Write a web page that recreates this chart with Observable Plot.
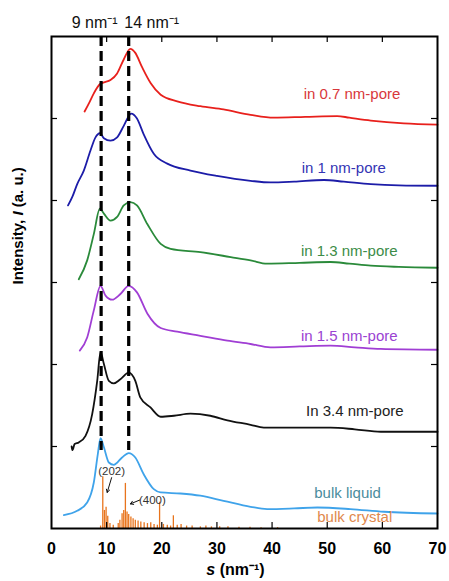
<!DOCTYPE html>
<html>
<head>
<meta charset="utf-8">
<script src="https://cdn.jsdelivr.net/npm/d3@7"></script>
<script src="https://cdn.jsdelivr.net/npm/@observablehq/plot@0.6"></script>
<style>
  html, body { margin: 0; padding: 0; background: #fff; }
</style>
</head>
<body>
<div id="chart"></div>
<script>
// ---- data (s in nm^-1, intensity in arbitrary offset units) ----
const xTickLabels = [0, 10, 20, 30, 40, 50, 60, 70];
const xInnerTicks = [10, 20, 30, 40, 50, 60];
const yInnerTicks = [1, 2, 3, 4, 5];
const peakLines = [9, 14];
const peakLabels = ["9 nm⁻¹", "14 nm⁻¹"];

const pore07 = [[6.0,5.085],[6.9,5.2],[7.7,5.31],[8.8,5.42],[9.5,5.44],[10.7,5.47],[11.9,5.55],[13.1,5.72],[14.3,5.85],[15.2,5.80],[16.4,5.63],[18.0,5.43],[19.8,5.29],[22.8,5.21],[27.0,5.15],[31.2,5.11],[36.1,5.045],[40.3,5.01],[46,5.02],[51.8,5.03],[54,5.01],[57.9,4.975],[63.9,4.94],[70,4.925]];
const pore1 = [[3.0,3.94],[3.75,4.04],[4.66,4.20],[5.86,4.365],[7.07,4.61],[7.98,4.77],[8.77,4.82],[9.5,4.76],[10.7,4.73],[11.9,4.77],[13.1,4.91],[14.45,5.06],[15.5,5.0],[16.7,4.81],[18.55,4.57],[21.0,4.45],[25.2,4.365],[30.0,4.30],[36.1,4.24],[39.7,4.22],[44,4.23],[49.4,4.25],[53,4.23],[57.9,4.20],[63,4.185],[70,4.18]];
const pore13 = [[4.95,3.04],[6.47,3.27],[7.67,3.59],[8.77,3.90],[9.5,3.84],[10.7,3.755],[11.9,3.80],[13.1,3.94],[14.3,3.98],[15.5,3.94],[17.4,3.71],[19.8,3.47],[21.6,3.41],[27.0,3.37],[32.5,3.31],[36.1,3.27],[39.1,3.23],[45,3.24],[50.6,3.25],[54,3.23],[57.9,3.205],[63,3.19],[70,3.18]];
const pore15 = [[5.13,2.17],[6.47,2.33],[7.67,2.66],[8.89,2.96],[9.8,2.84],[11.0,2.79],[12.5,2.86],[14.0,2.96],[15.5,2.88],[17.4,2.62],[19.8,2.445],[22.8,2.40],[27.0,2.35],[31.9,2.29],[36.1,2.25],[39.7,2.21],[45,2.22],[50.6,2.23],[55,2.21],[59.7,2.19],[70,2.18]];
const pore34 = [[3.65,1.0],[3.8,0.955],[4.2,1.03],[4.95,1.05],[6.17,1.13],[7.38,1.395],[8.29,1.80],[8.89,2.15],[9.5,2.006],[10.4,1.80],[11.3,1.77],[12.5,1.82],[14.0,1.90],[15.2,1.80],[16.1,1.60],[17.95,1.476],[19.8,1.363],[22.2,1.375],[25.2,1.40],[28.8,1.375],[31.9,1.32],[36.1,1.265],[38.5,1.23],[45,1.23],[50.6,1.23],[55,1.21],[59.7,1.18],[70,1.18]];
const bulkLiquid = [[2.23,0.163],[4.66,0.216],[6.47,0.317],[7.67,0.561],[8.4,0.908],[8.89,1.103],[9.5,0.99],[10.4,0.805],[11.3,0.777],[12.8,0.866],[14.0,0.92],[15.2,0.866],[16.7,0.664],[18.55,0.48],[19.8,0.44],[23.4,0.427],[27.0,0.40],[31.2,0.338],[36.1,0.265],[39.1,0.237],[44,0.245],[48.2,0.256],[54.2,0.237],[60.3,0.204],[70,0.183]];
const crystalS = [8.9,9.3,9.6,9.9,10.2,10.6,11.2,12.1,12.4,12.8,13.1,13.4,13.7,14.0,14.4,14.8,15.2,15.7,16.2,16.8,17.4,18.0,18.6,19.2,19.6,20.3,21.0,21.6,22.1,22.8,23.5,24.5,25.5,27.0,28.0,29.0,30.5,32.0,34.0,36.0,38.0,41.0];
const crystalI = [0.03,0.63,0.22,0.26,0.15,0.06,0.04,0.06,0.10,0.18,0.22,0.55,0.20,0.17,0.14,0.12,0.10,0.09,0.08,0.07,0.06,0.07,0.05,0.04,0.32,0.05,0.04,0.03,0.155,0.04,0.05,0.03,0.03,0.02,0.03,0.02,0.02,0.02,0.015,0.015,0.01,0.01];

const seriesNames = ["in 0.7 nm-pore","in 1 nm-pore","in 1.3 nm-pore","in 1.5 nm-pore","In 3.4 nm-pore","bulk liquid","bulk crystal"];
const seriesData = [pore07, pore1, pore13, pore15, pore34, bulkLiquid];
const lineColors = ["#e8201c","#1c1ca8","#2a8a3a","#a03ed4","#111111","#3fa3ea","#e8741c"];
const labelColors = ["#d8383c","#3434b4","#3c8c48","#9a42d2","#222222","#4a8c9c","#e0884c"];
const labelS = [54.5, 53.0, 54.0, 54.0, 55.0, 53.7, 55.0];
const labelI = [5.30, 4.40, 3.38, 2.35, 1.43, 0.427, 0.134];

const annotText = ["(202)", "(400)"];
const annotS = [10.9, 18.3];
const annotI = [0.695, 0.338];
const arrowFromS = [10.9, 16.0];
const arrowFromI = [0.62, 0.347];
const arrowToS = [10.1, 14.3];
const arrowToI = [0.44, 0.30];

// ---- build tables ----
const lineRows = seriesData.flatMap((arr, i) => arr.map(([s, v]) => ({s, v, name: seriesNames[i]})));
const crystalRows = crystalS.map((s, i) => ({s, v: crystalI[i]}));
const labelRows = seriesNames.map((n, i) => ({name: n, s: labelS[i], v: labelI[i], color: labelColors[i]}));
const annotRows = annotText.map((t, i) => ({t, s: annotS[i], v: annotI[i]}));
const arrowRows = arrowFromS.map((s, i) => ({x1: s, y1: arrowFromI[i], x2: arrowToS[i], y2: arrowToI[i]}));
const peakRows = peakLines.map((s, i) => ({s, label: peakLabels[i]}));

const W = 449, H = 581;
const mL = 51, mR = 12, mT = 36, mB = 53;
const tickLenX = 6 / ((W - mL - mR) / 70);
const tickLenY = 6 / ((H - mT - mB) / 6);

const chart = Plot.plot({
  width: W, height: H,
  marginLeft: mL, marginRight: mR, marginTop: mT, marginBottom: mB,
  style: {fontFamily: "'Liberation Sans', Arial, sans-serif", fontSize: "13px", background: "#fff", color: "#000"},
  x: {domain: [0, 70]},
  y: {domain: [0, 6], axis: null},
  color: {domain: seriesNames, range: lineColors},
  marks: [
    // crystal spikes
    Plot.ruleX(crystalRows, {x: "s", y1: 0, y2: "v", stroke: lineColors[6], strokeWidth: 1.3}),
    // curves
    Plot.line(lineRows, {x: "s", y: "v", z: "name", stroke: "name", strokeWidth: 1.8, curve: "monotone-x"}),
    // dashed peak lines
    Plot.ruleX(peakRows, {x: "s", y1: 6, y2: 0.95, stroke: "#000", strokeWidth: 3.2, strokeDasharray: "10,5"}),
    // series labels
    Plot.text(labelRows, {x: "s", y: "v", text: "name", fill: "color", fontSize: 15}),
    // annotations
    Plot.text(annotRows, {x: "s", y: "v", text: "t", fill: "#333", fontSize: 11.5}),
    Plot.arrow(arrowRows, {x1: "x1", y1: "y1", x2: "x2", y2: "y2", stroke: "#111", strokeWidth: 1, headLength: 5, insetEnd: 0}),
    // inward ticks
    Plot.ruleX(xInnerTicks, {x: d => d, y1: 0, y2: tickLenY, stroke: "#000", strokeWidth: 1.2}),
    Plot.ruleX(xInnerTicks, {x: d => d, y1: 6 - tickLenY, y2: 6, stroke: "#000", strokeWidth: 1.2}),
    Plot.ruleY(yInnerTicks, {y: d => d, x1: 0, x2: tickLenX, stroke: "#000", strokeWidth: 1.2}),
    Plot.ruleY(yInnerTicks, {y: d => d, x1: 70 - tickLenX, x2: 70, stroke: "#000", strokeWidth: 1.2}),
    // tick labels
    Plot.axisX(xTickLabels, {tickSize: 0, tickPadding: 14, fontSize: 16, fontWeight: "bold", label: null}),
    // top peak labels
    Plot.text(peakRows.slice(0, 1), {x: 12.0, y: 6, dy: -14, text: "label", textAnchor: "end", fontSize: 16, fill: "#111"}),
    Plot.text(peakRows.slice(1), {x: 13.2, y: 6, dy: -14, text: "label", textAnchor: "start", fontSize: 16, fill: "#111"}),
    // axis titles
    Plot.text(["s (nm⁻¹)"], {frameAnchor: "bottom", dy: 46, dx: -9, text: d => d, fontSize: 16, fontWeight: "bold"}),
    Plot.text(["Intensity, I (a. u.)"], {frameAnchor: "left", rotate: -90, dx: -33, dy: 2, text: d => d, fontSize: 15, fontWeight: "bold"}),
    Plot.frame({stroke: "#000", strokeWidth: 2})
  ]
});

// italic symbols in axis titles
d3.select(chart).selectAll("text").each(function() {
  const t = this.textContent;
  if (t === "s (nm⁻¹)") this.innerHTML = '<tspan font-style="italic">s</tspan> (nm⁻¹)';
  if (t === "Intensity, I (a. u.)") this.innerHTML = 'Intensity, <tspan font-style="italic">I</tspan> (a. u.)';
});

document.getElementById("chart").appendChild(chart);
</script>
</body>
</html>
